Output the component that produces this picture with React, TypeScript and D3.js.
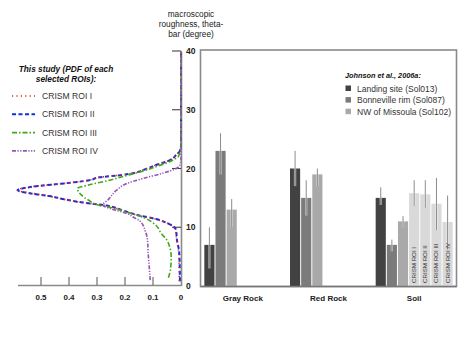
import React from 'react';
import * as d3 from 'd3';

const categories = ['Gray Rock', 'Red Rock', 'Soil'];
const johnsonNames = ['Landing site (Sol013)', 'Bonneville rim (Sol087)', 'NW of Missoula (Sol102)'];
const landingSite = [7, 20, 15];
const landingErr = [[3, 10], [17, 23], [13.8, 16.8]];
const bonneville = [23, 15, 7];
const bonnevilleErr = [[19, 26], [12, 18], [5.9, 7.9]];
const missoula = [13, 19, 11];
const missoulaErr = [[10, 14.8], [17, 20], [9.9, 11.9]];
const roiNames = ['CRISM ROI I', 'CRISM ROI II', 'CRISM ROI III', 'CRISM ROI IV'];
const roiSoilMean = [15.8, 15.6, 14.0, 10.9];
const roiSoilErr = [[13.6, 18], [13.3, 18], [9.5, 18.4], [6.2, 15.4]];

const thetaTicks = [0, 10, 20, 30, 40];
const pdfTicks = [0.5, 0.4, 0.3, 0.2, 0.1, 0];

// PDF curves: [theta (deg), pdf]
const roi1Pdf: [number, number][] = [
  [0.8, 0.006], [4, 0.007], [6, 0.009], [8, 0.016], [9.4, 0.02], [10.3, 0.033], [10.6, 0.045],
  [11.4, 0.092], [12, 0.15], [12.9, 0.212], [13.7, 0.27], [14.2, 0.352], [14.7, 0.412],
  [15.3, 0.472], [15.8, 0.535], [16.3, 0.585], [16.9, 0.532], [17.5, 0.412], [18, 0.33],
  [18.5, 0.292], [18.9, 0.212], [20, 0.122], [20.6, 0.09], [21.4, 0.042], [22.3, 0.018],
  [22.9, 0.006], [24, 0], [40, 0],
];
const roi2Pdf: [number, number][] = [
  [0.8, 0.004], [4, 0.005], [6, 0.007], [8, 0.015], [9.4, 0.017], [10.3, 0.03], [10.5, 0.04],
  [11.4, 0.089], [12, 0.148], [12.9, 0.21], [13.7, 0.267], [14.2, 0.35], [14.7, 0.41],
  [15.3, 0.47], [15.7, 0.53], [16.3, 0.583], [16.9, 0.53], [17.5, 0.41], [18, 0.327],
  [18.5, 0.29], [18.9, 0.21], [20, 0.12], [20.6, 0.089], [21.4, 0.04], [22.3, 0.017],
  [22.9, 0.005], [24, 0], [40, 0],
];
const roi3Pdf: [number, number][] = [
  [1.4, 0.045], [3, 0.037], [4.9, 0.035], [6.6, 0.04], [8, 0.053], [8.9, 0.07], [10.3, 0.089],
  [11.7, 0.136], [12.6, 0.196], [13.4, 0.255], [13.7, 0.29], [14.6, 0.33], [15.7, 0.36],
  [16.6, 0.37], [17.2, 0.33], [18, 0.255], [18.6, 0.21], [19.5, 0.14], [20.3, 0.089],
  [21.4, 0.03], [22, 0.01], [23, 0.003], [24, 0], [40, 0],
];
const roi4Pdf: [number, number][] = [
  [1, 0.11], [3, 0.113], [5.4, 0.117], [8, 0.12], [9.4, 0.128], [10.3, 0.135], [11.1, 0.148],
  [11.7, 0.17], [12.3, 0.19], [13.2, 0.255], [13.8, 0.28], [14.6, 0.262], [16.3, 0.23],
  [17.4, 0.196], [18.3, 0.136], [19.2, 0.065], [20, 0.017], [20.6, 0.004], [21.5, 0], [40, 0],
];

const W = 469;
const H = 351;

const yScale = d3.scaleLinear().domain([0, 40]).range([286, 51]);
const xPdf = d3.scaleLinear().domain([0, 0.58]).range([181, 18.6]);
const xCat = d3.scaleBand<string>().domain(categories).range([200, 457]);
const slot = d3.scaleBand<number>().domain(d3.range(7)).range([-38.5, 38.5]).paddingInner(0.09);

const FONT = 'Liberation Sans, Arial, Helvetica, sans-serif';

const barColors = ['#424242', '#7b7b7b', '#a9a9a9'];
const roiBarColor = '#d9d9d9';

const curveStyles = [
  { data: roi2Pdf, color: '#1030e0', dash: '4,2.5', width: 2, name: roiNames[1] },
  { data: roi1Pdf, color: '#e82020', dash: '1.2,3.2', width: 1.6, name: roiNames[0] },
  { data: roi3Pdf, color: '#3fa81a', dash: '5,2,1.5,2', width: 1.6, name: roiNames[2] },
  { data: roi4Pdf, color: '#9555b5', dash: '4,1.5,1.2,1.5,1.2,1.5', width: 1.6, name: roiNames[3] },
];
const legendOrder = [1, 0, 2, 3];

export default function App() {
  const line = d3
    .line<[number, number]>()
    .x((d) => xPdf(d[1]))
    .y((d) => yScale(d[0]))
    .curve(d3.curveMonotoneY);

  const johnson = [
    { vals: landingSite, err: landingErr },
    { vals: bonneville, err: bonnevilleErr },
    { vals: missoula, err: missoulaErr },
  ];

  const bars: { x: number; w: number; v: number; e: number[]; c: string; label?: string }[] = [];
  categories.forEach((cat, ci) => {
    const center = (xCat(cat) as number) + xCat.bandwidth() / 2;
    johnson.forEach((s, si) => {
      bars.push({
        x: center + (slot(si) as number),
        w: slot.bandwidth(),
        v: s.vals[ci],
        e: s.err[ci],
        c: barColors[si],
      });
    });
    if (cat === 'Soil') {
      roiSoilMean.forEach((v, ri) => {
        bars.push({
          x: center + (slot(3 + ri) as number),
          w: slot.bandwidth(),
          v,
          e: roiSoilErr[ri],
          c: roiBarColor,
          label: roiNames[ri],
        });
      });
    }
  });

  return (
    <svg
      width={W}
      height={H}
      style={{ position: 'absolute', left: 0, top: 0, background: '#fff' }}
      fontFamily={FONT}
    >
      {/* top axis title */}
      <g fontSize={8.3} fill="#222" textAnchor="middle">
        <text x={191} y={17}>macroscopic</text>
        <text x={191} y={27}>roughness, theta-</text>
        <text x={191} y={37}>bar (degree)</text>
      </g>

      {/* left legend */}
      <g fontSize={8.3} fontWeight="bold" fontStyle="italic" fill="#111" textAnchor="middle">
        <text x={66} y={71.5}>This study (PDF of each</text>
        <text x={66} y={81.5}>selected ROIs):</text>
      </g>
      {legendOrder.map((ci, i) => {
        const s = curveStyles[ci];
        const yy = 96 + i * 18.3;
        return (
          <g key={s.name}>
            <line x1={12} x2={35} y1={yy} y2={yy} stroke={s.color} strokeWidth={s.width} strokeDasharray={s.dash} />
            <text x={42} y={yy + 3} fontSize={8.6} fill="#333">{s.name}</text>
          </g>
        );
      })}

      {/* right plot frame */}
      <rect x={200.5} y={50} width={256} height={236.5} fill="none" stroke="#8a8a8a" strokeWidth={1.6} />

      {/* bars */}
      {bars.map((b, i) => (
        <rect key={'b' + i} x={b.x} y={yScale(b.v)} width={b.w} height={yScale(0) - yScale(b.v)} fill={b.c} />
      ))}
      {bars.map((b, i) => {
        const cx = b.x + b.w / 2;
        return (
          <g key={'e' + i}>
            <line x1={cx} x2={cx} y1={yScale(b.e[0])} y2={yScale(b.e[1])} stroke="#ffffff" strokeOpacity={0.5} strokeWidth={2.4} />
            <line x1={cx} x2={cx} y1={yScale(b.e[0])} y2={yScale(b.e[1])} stroke="#8c8c8c" strokeWidth={1} />
          </g>
        );
      })}
      {bars
        .filter((b) => b.label)
        .map((b, i) => {
          const cx = b.x + b.w / 2 + 2;
          const yy = 283;
          return (
            <text key={'l' + i} x={cx} y={yy} transform={`rotate(-90 ${cx} ${yy})`} fontSize={6.2} fill="#333">
              {b.label}
            </text>
          );
        })}
      {/* baseline */}
      <line x1={200.5} x2={456.5} y1={286.5} y2={286.5} stroke="#777" strokeWidth={1.6} />

      {/* category labels */}
      {categories.map((c) => (
        <text key={c} x={(xCat(c) as number) + xCat.bandwidth() / 2} y={300.5} textAnchor="middle" fontSize={8} fontWeight="bold" fill="#222">
          {c}
        </text>
      ))}

      {/* right legend */}
      <text x={345} y={78} fontSize={7.3} fontWeight="bold" fontStyle="italic" fill="#111">Johnson et al., 2006a:</text>
      {johnsonNames.map((n, i) => {
        const yy = 88.5 + i * 11.6;
        return (
          <g key={n}>
            <rect x={345.5} y={yy - 3} width={5.5} height={5.5} fill={barColors[i]} />
            <text x={357} y={yy + 3} fontSize={8.5} fill="#333">{n}</text>
          </g>
        );
      })}

      {/* left panel axes */}
      <line x1={18} x2={181.5} y1={285.5} y2={285.5} stroke="#8a8a8a" strokeWidth={1.6} />
      <line x1={181.5} x2={181.5} y1={52} y2={286} stroke="#8a8a8a" strokeWidth={1.6} />
      {pdfTicks.filter((t) => t > 0).map((t) => (
        <line key={'pt' + t} x1={xPdf(t)} x2={xPdf(t)} y1={277} y2={285} stroke="#555" strokeWidth={1} />
      ))}
      {thetaTicks.filter((t) => t > 0).map((t) => (
        <line key={'tt' + t} x1={172} x2={181} y1={yScale(t)} y2={yScale(t)} stroke="#444" strokeWidth={1.1} />
      ))}

      {/* PDF curves */}
      {curveStyles.map((s) => (
        <path key={s.name} d={line(s.data) || ''} fill="none" stroke={s.color} strokeWidth={s.width} strokeDasharray={s.dash} />
      ))}

      {/* tick labels */}
      {pdfTicks.map((t) => (
        <text key={'pl' + t} x={xPdf(t)} y={300} textAnchor="middle" fontSize={8} fontWeight="bold" fill="#222">
          {t === 0 ? '0' : d3.format('.1f')(t)}
        </text>
      ))}
      {thetaTicks.map((t) => (
        <text key={'tl' + t} x={186} y={yScale(t) + 3} fontSize={8.5} fontWeight="bold" fill="#222">
          {t}
        </text>
      ))}
    </svg>
  );
}
